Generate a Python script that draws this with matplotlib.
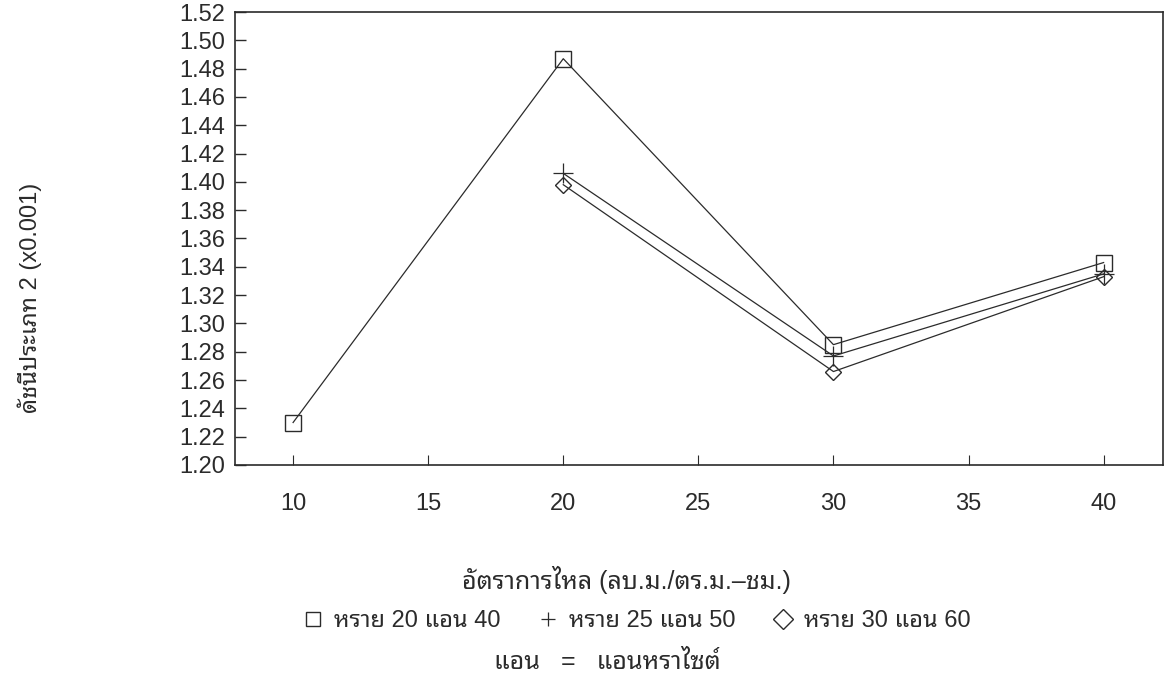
import matplotlib
matplotlib.use("Agg")
import matplotlib.pyplot as plt
from matplotlib.ticker import MultipleLocator

plt.rcParams['font.family'] = ['Liberation Sans', 'Noto Sans Thai Looped', 'DejaVu Sans']

# flow rate (x) and index (x0.001) per mix
flow_sand20 = [10, 20, 30, 40]
idx_sand20 = [1.230, 1.487, 1.285, 1.343]
flow_sand25 = [20, 30, 40]
idx_sand25 = [1.406, 1.277, 1.335]
flow_sand30 = [20, 30, 40]
idx_sand30 = [1.398, 1.266, 1.333]

labels = ['หราย 20 แอน 40', 'หราย 25 แอน 50', 'หราย 30 แอน 60']
xticks = [10, 15, 20, 25, 30, 35, 40]

ink = '#2b2b2b'

fig = plt.figure(figsize=(11.71, 6.78), dpi=100)
ax = fig.add_axes([0.2007, 0.3142, 0.7925, 0.6681])

ax.plot(flow_sand20, idx_sand20, color=ink, lw=0.9, marker='s', ms=12,
        mfc='none', mec=ink, mew=1.0, label=labels[0])
ax.plot(flow_sand25, idx_sand25, color=ink, lw=0.9, marker='+', ms=14,
        mec=ink, mew=0.9, label=labels[1])
ax.plot(flow_sand30, idx_sand30, color=ink, lw=0.9, marker='D', ms=8,
        mfc='none', mec=ink, mew=1.0, label=labels[2])

ax.set_xlim(7.85, 42.2)
ax.set_ylim(1.20, 1.52)
ax.set_xticks(xticks)
ax.yaxis.set_major_locator(MultipleLocator(0.02))
ax.yaxis.set_major_formatter(lambda v, p: f"{v:.2f}")

ax.tick_params(axis='y', direction='in', length=8, width=1, pad=7,
               labelsize=17, colors=ink)
ax.tick_params(axis='x', direction='in', length=7, width=0.8, pad=20,
               labelsize=17, colors=ink)
for s in ax.spines.values():
    s.set_color(ink)
    s.set_linewidth(1.2)

ax.set_ylabel('ดัชนีประเภท 2 (x0.001)', fontsize=17, color=ink, va='center')
ax.yaxis.set_label_coords(-0.221, 0.369)
ax.set_xlabel('อัตราการไหล (ลบ.ม./ตร.ม.–ชม.)', fontsize=18, color=ink, va='center')
ax.xaxis.set_label_coords(0.422, -0.254)

leg = ax.legend(loc='center', bbox_to_anchor=(0.433, -0.344), ncol=3,
                frameon=False, fontsize=17, handlelength=0.8, handletextpad=0.5,
                columnspacing=1.6, labelcolor=ink)
for h in leg.legend_handles:
    h.set_linestyle('None')
    h.set_color('#666666')
    h.set_markersize(10)

ax.text(0.401, -0.435, 'แอน   =   แอนหราไซต์', transform=ax.transAxes,
        ha='center', va='center', fontsize=18, color=ink)

fig.savefig("out.png")
